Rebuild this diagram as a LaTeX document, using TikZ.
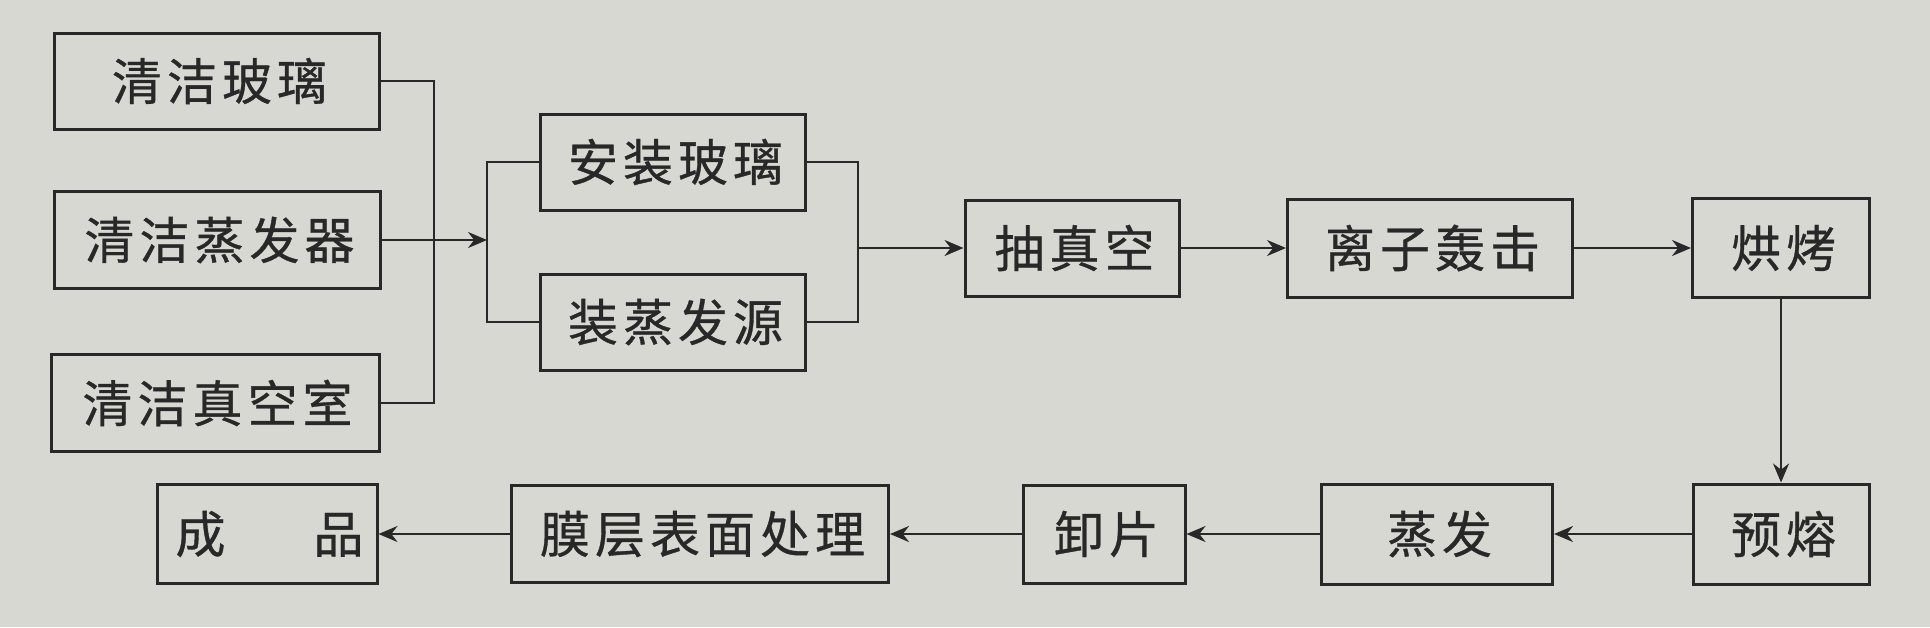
\documentclass[tikz,border=0pt]{standalone}
\usepackage{fontspec}
\newfontfamily\cjk[LetterSpace=10,FakeBold=0.7]{Noto Sans CJK SC}
\usetikzlibrary{arrows.meta}
\definecolor{paper}{RGB}{216,216,211}
\definecolor{ink}{RGB}{40,40,40}
\begin{document}
\begin{tikzpicture}[x=0.5pt,y=-0.5pt,
  stepbox/.style 2 args={draw=ink, line width=1.5pt, text=ink,
    font=\cjk\fontsize{25pt}{25pt}\selectfont, inner sep=0pt,
    minimum width=#1*0.5pt, minimum height=#2*0.5pt,
    execute at end node={\kern-0.1em}},
  conn/.style={draw=ink, line width=1.2pt},
  arr/.style={conn, -{Stealth[length=9.5pt,width=8pt]}}]
\fill[paper] (0,0) rectangle (1930,627);
\useasboundingbox (0,0) rectangle (1930,627);

% left column
\node[stepbox={325}{96}] (A) at (217,81) {清洁玻璃};
\node[stepbox={326}{97}] (B) at (217,240) {清洁蒸发器};
\node[stepbox={328}{97}] (C) at (215,403) {清洁真空室};
\coordinate (lc) at (434,240);
\draw[conn] (A.east) -| (lc) |- (C.east);

% pair
\node[stepbox={265}{96}] (D) at (673,162) {安装玻璃};
\node[stepbox={265}{96}] (E) at (673,322) {装蒸发源};
\coordinate (lbr) at (487,240);
\draw[arr] (B.east) -- (lbr);
\draw[conn] (D.west) -| (lbr) |- (E.west);
\coordinate (rbr) at (858,248);
\draw[conn] (D.east) -| (rbr) |- (E.east);

% top row
\node[stepbox={214}{96}] (F) at (1072,248) {抽真空};
\node[stepbox={285}{98}] (G) at (1430,248) {离子轰击};
\node[stepbox={177}{99}] (H) at (1781,248) {烘烤};
\draw[arr] (rbr) -- (F.west);
\draw[arr] (F.east) -- (G.west);
\draw[arr] (G.east) -- (H.west);

% bottom row
\node[stepbox={176}{100}] (I) at (1781,534) {预熔};
\node[stepbox={231}{100}] (J) at (1437,534) {蒸发};
\node[stepbox={162}{98}] (K) at (1104,534) {卸片};
\node[stepbox={377}{97}] (L) at (700,534) {膜层表面处理};
\node[stepbox={220}{99}] (M) at (267,534) {成\hspace{44pt}品};
\draw[arr] (H.south) -- (I.north);
\draw[arr] (I.west) -- (J.east);
\draw[arr] (J.west) -- (K.east);
\draw[arr] (K.west) -- (L.east);
\draw[arr] (L.west) -- (M.east);
\end{tikzpicture}
\end{document}
